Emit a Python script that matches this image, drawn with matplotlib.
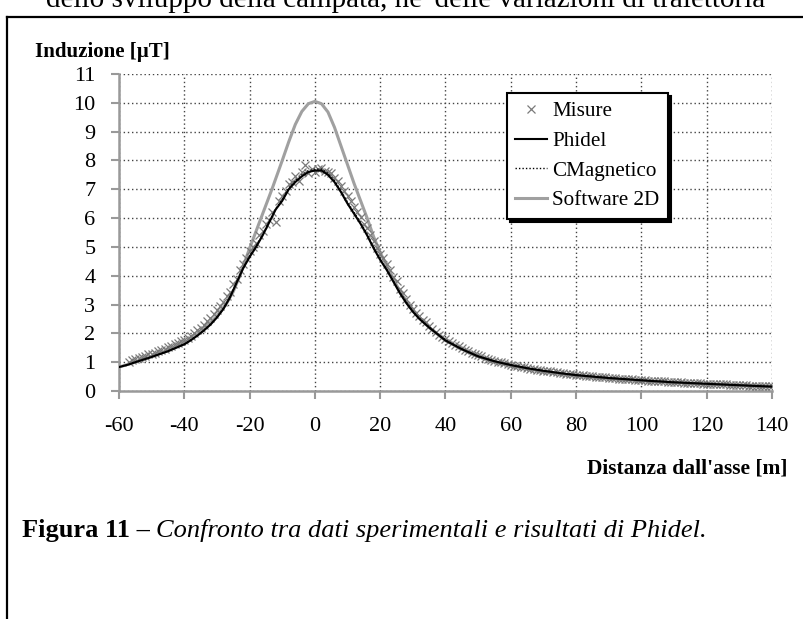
import matplotlib
matplotlib.use("Agg")
import matplotlib.pyplot as plt
from matplotlib.lines import Line2D

plt.rcParams['font.family'] = ['Liberation Serif', 'DejaVu Serif']
plt.rcParams['axes.unicode_minus'] = False

# --- dati ---
phidel_x = [-60, -57, -55, -50, -45, -40, -38, -36, -34, -32, -30, -28, -26, -24, -22, -20,
            -18, -16, -14, -12, -10, -8, -6, -4, -2, 0, 2, 4, 6, 8, 10, 12, 14, 16, 18, 20,
            22, 24, 26, 28, 30, 32, 35, 40, 45, 50, 55, 60, 65, 70, 75, 80, 90, 100, 110,
            120, 130, 140]
phidel_y = [0.83, 0.92, 1.0, 1.18, 1.38, 1.62, 1.76, 1.92, 2.1, 2.3, 2.55, 2.85, 3.25, 3.75,
            4.25, 4.65, 5.0, 5.4, 5.85, 6.3, 6.6, 7.0, 7.25, 7.45, 7.6, 7.65, 7.65, 7.5, 7.25,
            6.9, 6.5, 6.15, 5.8, 5.4, 4.95, 4.55, 4.2, 3.8, 3.4, 3.05, 2.75, 2.5, 2.2, 1.75,
            1.45, 1.2, 1.03, 0.9, 0.79, 0.7, 0.62, 0.55, 0.45, 0.37, 0.3, 0.25, 0.2, 0.15]

cmagnetico_x = phidel_x
cmagnetico_y = [0.84, 0.93, 1.01, 1.19, 1.39, 1.63, 1.77, 1.93, 2.11, 2.32, 2.57, 2.87, 3.27,
                3.77, 4.27, 4.68, 5.03, 5.43, 5.88, 6.33, 6.64, 7.04, 7.29, 7.5, 7.65, 7.7,
                7.7, 7.55, 7.3, 6.95, 6.55, 6.2, 5.84, 5.44, 4.99, 4.58, 4.23, 3.83, 3.43,
                3.08, 2.77, 2.52, 2.22, 1.77, 1.46, 1.21, 1.04, 0.91, 0.8, 0.71, 0.63, 0.56,
                0.46, 0.38, 0.31, 0.25, 0.2, 0.16]

sw2d_x = [-60, -55, -50, -45, -40, -35, -30, -27, -25, -23, -20, -17, -15, -13, -10, -8, -6,
          -4, -2, 0, 2, 4, 6, 8, 10, 12, 14, 16, 18, 20, 22, 24, 26, 28, 30, 35, 40, 45, 50,
          55, 60, 70, 80, 90, 100, 110, 120, 130, 140]
sw2d_y = [0.83, 1.0, 1.2, 1.4, 1.65, 2.05, 2.6, 3.05, 3.45, 4.0, 4.95, 5.85, 6.45, 7.05, 8.0,
          8.65, 9.25, 9.7, 9.97, 10.05, 9.97, 9.68, 9.15, 8.5, 7.85, 7.2, 6.6, 6.0, 5.35, 4.8,
          4.35, 3.9, 3.45, 3.1, 2.8, 2.2, 1.75, 1.45, 1.2, 1.02, 0.88, 0.67, 0.53, 0.43,
          0.35, 0.29, 0.24, 0.2, 0.16]

misure_x = list(range(-57, 141))
misure_y = [
    # -57 .. -30
    1.02, 1.08, 1.10, 1.16, 1.18, 1.22, 1.27, 1.30, 1.33, 1.38, 1.43, 1.45, 1.52, 1.55,
    1.62, 1.66, 1.72, 1.76, 1.85, 1.92, 2.00, 2.10, 2.18, 2.30, 2.42, 2.55, 2.66, 2.80,
    # -29 .. 0
    2.95, 3.10, 3.30, 3.45, 3.70, 3.90, 4.20, 4.40, 4.60, 4.85, 5.00, 5.15, 5.40, 5.55,
    5.80, 5.95, 6.20, 5.85, 6.60, 6.75, 6.95, 7.20, 7.25, 7.45, 7.30, 7.60, 7.85, 7.55,
    7.70, 7.60,
    # 1 .. 40
    7.70, 7.75, 7.65, 7.60, 7.55, 7.40, 7.30, 7.10, 6.95, 6.75, 6.60, 6.40, 6.20, 6.05,
    5.80, 5.65, 5.40, 5.20, 4.95, 4.75, 4.60, 4.40, 4.20, 3.95, 3.80, 3.55, 3.40, 3.20,
    3.00, 2.85, 2.72, 2.60, 2.46, 2.38, 2.26, 2.15, 2.06, 1.96, 1.88, 1.80,
    # 41 .. 60
    1.74, 1.67, 1.60, 1.55, 1.50, 1.43, 1.38, 1.33, 1.28, 1.24, 1.20, 1.15, 1.12, 1.08,
    1.05, 1.02, 0.99, 0.96, 0.93, 0.91,
    # 61 .. 100
    0.88, 0.86, 0.84, 0.82, 0.80, 0.78, 0.76, 0.74, 0.72, 0.71, 0.69, 0.68, 0.66, 0.65,
    0.63, 0.62, 0.60, 0.59, 0.58, 0.56, 0.55, 0.54, 0.53, 0.52, 0.51, 0.50, 0.49, 0.48,
    0.47, 0.46, 0.45, 0.44, 0.43, 0.42, 0.42, 0.41, 0.40, 0.39, 0.38, 0.38,
    # 101 .. 140
    0.37, 0.36, 0.36, 0.35, 0.34, 0.34, 0.33, 0.32, 0.32, 0.31, 0.30, 0.30, 0.29, 0.29,
    0.28, 0.28, 0.27, 0.27, 0.26, 0.26, 0.25, 0.25, 0.24, 0.24, 0.23, 0.23, 0.22, 0.22,
    0.21, 0.21, 0.20, 0.20, 0.19, 0.19, 0.18, 0.18, 0.17, 0.17, 0.16, 0.16,
]

x_ticks = list(range(-60, 141, 20))
y_ticks = list(range(0, 12))

# --- figura ---
fig = plt.figure(figsize=(8.04, 6.19), dpi=100)
ax = fig.add_axes([119 / 804, 1 - 391 / 619, 653 / 804, 317 / 619])

ax.plot(misure_x, misure_y, linestyle='none', marker='x', markersize=6, mew=0.9,
        color='#7a7a7a', label='Misure', zorder=3)
ax.plot(phidel_x, phidel_y, color='black', lw=1.5, label='Phidel', zorder=4)
ax.plot(cmagnetico_x, cmagnetico_y, color='black', lw=1.0, linestyle=(0, (1, 1.5)),
        label='CMagnetico', zorder=4)
ax.plot(sw2d_x, sw2d_y, color='#a0a0a0', lw=2.2, label='Software 2D', zorder=2)

ax.set_xlim(-60, 140)
ax.set_ylim(0, 11)
ax.set_xticks(x_ticks)
ax.set_yticks(y_ticks)
ax.grid(True, color='#444444', linestyle=(0, (1, 2)), linewidth=1.0)
ax.set_axisbelow(True)

for s in ['top', 'right']:
    ax.spines[s].set_visible(False)
for s in ['left', 'bottom']:
    ax.spines[s].set_color('#999999')
    ax.spines[s].set_linewidth(1.8)
ax.tick_params(axis='both', direction='out', length=6, width=1.5, color='#999999',
               labelsize=16)
ax.tick_params(axis='x', pad=13)
ax.tick_params(axis='y', pad=11)

leg = ax.legend(loc='upper left', bbox_to_anchor=(0.594, 0.940), borderaxespad=0,
                fontsize=15.2, frameon=True, fancybox=False, framealpha=1,
                edgecolor='black', handlelength=1.5, handletextpad=0.25,
                labelspacing=0.47, borderpad=0.4,
                shadow={'color': 'black', 'alpha': 1})
leg.get_frame().set_linewidth(1.5)

# etichette degli assi
fig.text(35 / 804, 1 - 52 / 619, 'Induzione [µT]', fontsize=15, fontweight='bold',
         ha='left', va='center')
fig.text(788 / 804, 1 - 468 / 619, "Distanza dall'asse [m]", fontsize=15.5,
         fontweight='bold', ha='right', va='center')

# cornice della pagina
fig.add_artist(Line2D([7 / 804, 7 / 804], [0, 1 - 17 / 619], transform=fig.transFigure,
                      color='black', lw=1.6))
fig.add_artist(Line2D([7 / 804, 1], [1 - 17 / 619, 1 - 17 / 619], transform=fig.transFigure,
                      color='black', lw=1.6))

# testo della pagina (tagliato in alto come nell'originale)
fig.text(46 / 804, 1 - 7 / 619, "dello sviluppo della campata, ne' delle variazioni di traiettoria",
         fontsize=21, ha='left', va='baseline')
cap1 = fig.text(22 / 804, 1 - 530 / 619, 'Figura 11 \u2013 ', fontsize=19, fontweight='bold',
                ha='left', va='center')
fig.canvas.draw()
bb = cap1.get_window_extent(renderer=fig.canvas.get_renderer())
fig.text(bb.x1 / fig.bbox.width, 1 - 530 / 619,
         'Confronto tra dati sperimentali e risultati di Phidel.', fontsize=19,
         style='italic', ha='left', va='center')

fig.savefig('out.png', dpi=100)
